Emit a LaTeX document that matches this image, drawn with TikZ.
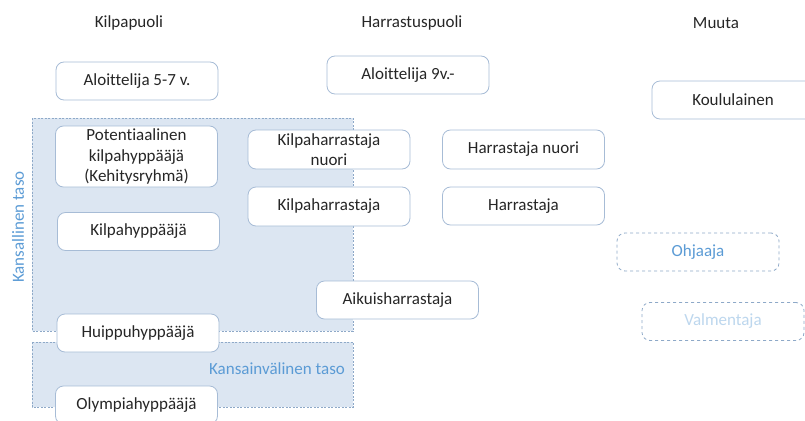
\documentclass[tikz,border=0pt]{standalone}
\usepackage{fontspec}
\setmainfont{Carlito}[Ligatures=NoCommon]
\usepackage{tikz}
\definecolor{boxline}{HTML}{A7BCD6}
\definecolor{areafill}{HTML}{DCE6F2}
\definecolor{arealine}{HTML}{8EA9C8}
\definecolor{labelblue}{HTML}{5B9BD5}
\definecolor{palelabel}{HTML}{BDD7EE}
\definecolor{textgray}{HTML}{262626}
\tikzset{
  rolebox/.style={draw=boxline, fill=white, rounded corners=8pt, line width=0.8pt,
    minimum width=162pt, minimum height=38pt, align=center, inner sep=1pt},
  openbox/.style={rolebox, dashed, draw=arealine},
  area/.style={draw=arealine, fill=areafill, dashed, dash pattern=on 2pt off 1.5pt, line width=0.6pt}
}

\begin{document}
\begin{tikzpicture}[font=\fontsize{17}{20.5}\selectfont, text=textgray, x=1pt, y=-1pt]
\useasboundingbox (0, 0) rectangle (805, 420);
\draw [area] (32, 118) rectangle (353, 331);
\draw [area] (32, 342) rectangle (353, 407);
\node (kilpa) at (129, 23) {Kilpapuoli};
\node (harr) at (412, 23) {Harrastuspuoli};
\node (muuta) at (716, 23) {Muuta};
\node [rotate=90, text=labelblue] (kansal) at (18, 227) {Kansallinen taso};
\node [text=labelblue] (kansain) at (277, 369) {Kansainvälinen taso};

\node [rolebox] (a) at (137, 81) {Aloittelija 5-7 v.};
\node [rolebox] (b) at (408, 75) {Aloittelija 9v.-};
\node [rolebox] (c) at (733, 100) {Koululainen};
\node [rolebox, minimum height=61pt] (d) at (136.5, 156.5) {Potentiaalinen\\kilpahyppääjä\\(Kehitysryhmä)};
\node [rolebox] (e) at (138.5, 231.5) {Kilpahyppääjä};
\node [rolebox] (f) at (138, 333) {Huippuhyppääjä};
\node [rolebox] (g) at (136.5, 405) {Olympiahyppääjä};
\node [rolebox, minimum height=39pt] (h) at (329, 149.5) {Kilpaharrastaja\\nuori};
\node [rolebox, minimum height=39pt] (i) at (329, 206.5) {Kilpaharrastaja};
\node [rolebox, minimum height=39pt] (j) at (523.5, 149.5) {Harrastaja nuori};
\node [rolebox] (k) at (523.5, 206) {Harrastaja};
\node [rolebox] (l) at (397.5, 300) {Aikuisharrastaja};
\node [openbox, text=labelblue] (m) at (698, 252) {Ohjaaja};
\node [openbox, text=palelabel] (n) at (723, 321.5) {Valmentaja};
\end{tikzpicture}
\end{document}
